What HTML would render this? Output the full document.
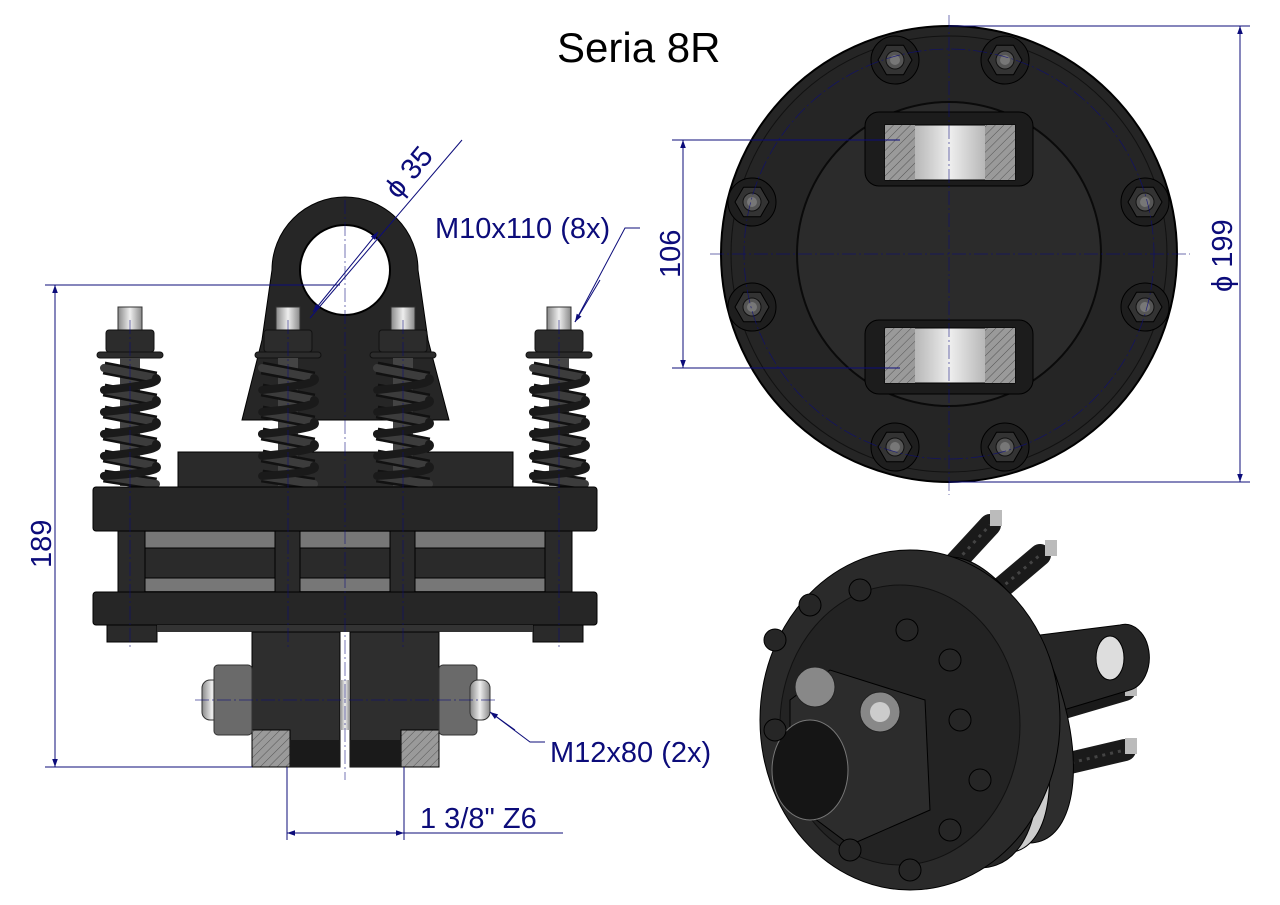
<!DOCTYPE html>
<html><head><meta charset="utf-8"><style>
html,body{margin:0;padding:0;background:#fff;}
svg{display:block;}
text{font-family:"Liberation Sans",sans-serif;}
</style></head><body>
<svg width="1280" height="905" viewBox="0 0 1280 905" xmlns="http://www.w3.org/2000/svg">
<defs>
<marker id="ar" viewBox="0 0 10 10" refX="10" refY="5" markerWidth="12" markerHeight="8" orient="auto-start-reverse"><path d="M0,1.5 L10,5 L0,8.5z" fill="#0c0c7a"/></marker>
<pattern id="hatch" width="6" height="6" patternUnits="userSpaceOnUse" patternTransform="rotate(45)"><rect width="6" height="6" fill="#9a9a9a"/><line x1="0" y1="0" x2="0" y2="6" stroke="#555" stroke-width="1"/></pattern>
<linearGradient id="metal" x1="0" x2="1"><stop offset="0" stop-color="#888"/><stop offset=".5" stop-color="#eee"/><stop offset="1" stop-color="#888"/></linearGradient>
<g id="spring">
<rect x="-12" y="-45" width="24" height="24" fill="url(#metal)" stroke="#333"/>
<rect x="-24" y="-22" width="48" height="22" rx="3" fill="#2c2c2c" stroke="#111"/>
<rect x="-33" y="0" width="66" height="6" rx="3" fill="#2c2c2c" stroke="#111"/>
<rect x="-10" y="6" width="20" height="128" fill="#444"/>
<g fill="none" stroke="#111" stroke-width="13">
<path d="M-26,16 L26,26 M-26,38 L26,48 M-26,60 L26,70 M-26,82 L26,92 M-26,104 L26,114 M-26,124 L26,132"/>
</g>
<g fill="none" stroke="#3c3c3c" stroke-width="8" stroke-linecap="round">
<path d="M-26,16 L26,26 M-26,38 L26,48 M-26,60 L26,70 M-26,82 L26,92 M-26,104 L26,114 M-26,124 L26,132"/>
</g>
<g fill="none" stroke="#1a1a1a" stroke-width="8" stroke-linecap="round">
<path d="M26,26 Q34,32 -26,38 M26,48 Q34,54 -26,60 M26,70 Q34,76 -26,82 M26,92 Q34,98 -26,104 M26,114 Q34,120 -26,124"/>
</g>
</g>
<g id="bolt">
<circle r="24" fill="#1e1e1e" stroke="#000"/>
<polygon points="17,0 8.5,14.7 -8.5,14.7 -17,0 -8.5,-14.7 8.5,-14.7" fill="#333" stroke="#000"/>
<circle r="9" fill="#555" stroke="#111"/>
<circle r="5" fill="#777"/>
</g>
</defs>

<text x="557" y="62" font-size="42" fill="#000">Seria 8R</text>

<!-- LEFT VIEW -->
<path d="M242,420 L262,340 L272,270 A73,73 0 0 1 418,270 L428,340 L449,420 Z" fill="#262626" stroke="#000"/>
<circle cx="345" cy="270" r="45" fill="#fff" stroke="#000" stroke-width="2"/>
<rect x="178" y="452" width="335" height="35" fill="#2a2a2a" stroke="#000"/>
<use href="#spring" x="130" y="352"/>
<use href="#spring" x="288" y="352"/>
<use href="#spring" x="403" y="352"/>
<use href="#spring" x="559" y="352"/>
<rect x="93" y="487" width="504" height="44" rx="3" fill="#262626" stroke="#000"/>
<rect x="145" y="531" width="400" height="61" fill="#2a2a2a"/>
<rect x="145" y="532" width="400" height="16" fill="#777"/>
<rect x="145" y="578" width="400" height="13" fill="#777"/>
<line x1="145" y1="548" x2="545" y2="548" stroke="#000"/>
<line x1="145" y1="578" x2="545" y2="578" stroke="#000"/>
<rect x="118" y="531" width="27" height="61" fill="#2a2a2a" stroke="#000"/>
<rect x="275" y="531" width="25" height="61" fill="#2a2a2a" stroke="#000"/>
<rect x="390" y="531" width="25" height="61" fill="#2a2a2a" stroke="#000"/>
<rect x="545" y="531" width="27" height="61" fill="#2a2a2a" stroke="#000"/>
<rect x="93" y="592" width="504" height="33" rx="3" fill="#262626" stroke="#000"/>
<rect x="107" y="625" width="50" height="17" fill="#2a2a2a" stroke="#000"/>
<rect x="265" y="625" width="43" height="17" fill="#2a2a2a" stroke="#000"/>
<rect x="380" y="625" width="43" height="17" fill="#2a2a2a" stroke="#000"/>
<rect x="533" y="625" width="50" height="17" fill="#2a2a2a" stroke="#000"/>
<rect x="157" y="625" width="376" height="7" fill="#333"/>
<rect x="252" y="632" width="88" height="135" fill="#2e2e2e" stroke="#000"/>
<rect x="350" y="632" width="89" height="135" fill="#2e2e2e" stroke="#000"/>
<rect x="340" y="680" width="10" height="50" fill="url(#metal)"/>
<rect x="252" y="730" width="38" height="37" fill="url(#hatch)" stroke="#000"/>
<rect x="401" y="730" width="38" height="37" fill="url(#hatch)" stroke="#000"/>
<rect x="290" y="740" width="50" height="27" fill="#1a1a1a"/>
<rect x="350" y="740" width="51" height="27" fill="#1a1a1a"/>
<rect x="202" y="680" width="20" height="40" rx="8" fill="url(#metal)" stroke="#333"/>
<rect x="214" y="665" width="38" height="70" rx="4" fill="#6a6a6a" stroke="#333"/>
<rect x="439" y="665" width="38" height="70" rx="4" fill="#6a6a6a" stroke="#333"/>
<rect x="470" y="680" width="20" height="40" rx="8" fill="url(#metal)" stroke="#333"/>

<g stroke="#0c0c7a" stroke-width="1" fill="none">
<line x1="45" y1="285" x2="340" y2="285"/>
<line x1="45" y1="767" x2="252" y2="767"/>
<line x1="55" y1="285" x2="55" y2="767" marker-start="url(#ar)" marker-end="url(#ar)"/>
<line x1="287" y1="767" x2="287" y2="840"/>
<line x1="404" y1="767" x2="404" y2="840"/>
<line x1="287" y1="833" x2="404" y2="833" marker-start="url(#ar)" marker-end="url(#ar)"/>
<line x1="404" y1="833" x2="563" y2="833"/>
<line x1="462" y1="140" x2="310" y2="318"/>
<line x1="378" y1="232" x2="313" y2="312" marker-start="url(#ar)" marker-end="url(#ar)"/>
<polyline points="640,228 625,228 575,322"/>
<line x1="600" y1="280" x2="575" y2="322" marker-end="url(#ar)"/>
<polyline points="545,742 530,742 490,712"/>
<line x1="515" y1="730" x2="490" y2="712" marker-end="url(#ar)"/>
</g>
<g stroke="#0c0c7a" stroke-width=".7" stroke-dasharray="14,3,2,3" opacity=".8">
<line x1="345" y1="200" x2="345" y2="780"/>
<line x1="130" y1="320" x2="130" y2="650"/><line x1="288" y1="320" x2="288" y2="650"/>
<line x1="403" y1="320" x2="403" y2="650"/><line x1="559" y1="320" x2="559" y2="650"/>
<line x1="195" y1="700" x2="495" y2="700"/>
</g>
<text x="0" y="0" font-size="29" fill="#0c0c7a" transform="translate(51,568) rotate(-90)">189</text>
<text x="420" y="828" font-size="29" fill="#0c0c7a">1 3/8" Z6</text>
<text x="550" y="762" font-size="29" fill="#0c0c7a">M12x80 (2x)</text>
<text x="435" y="238" font-size="29" fill="#0c0c7a">M10x110 (8x)</text>
<text x="0" y="0" font-size="29" fill="#0c0c7a" transform="translate(398,200) rotate(-50)">ϕ 35</text>

<!-- RIGHT TOP VIEW -->
<circle cx="949" cy="254" r="228" fill="#252525" stroke="#000" stroke-width="2"/>
<circle cx="949" cy="254" r="218" fill="none" stroke="#111"/>
<circle cx="949" cy="254" r="152" fill="#2b2b2b" stroke="#0a0a0a" stroke-width="2"/>
<rect x="865" y="112" width="168" height="74" rx="14" fill="#1c1c1c" stroke="#000"/>
<rect x="885" y="125" width="130" height="55" fill="url(#metal)" stroke="#000"/>
<rect x="885" y="125" width="30" height="55" fill="url(#hatch)"/>
<rect x="985" y="125" width="30" height="55" fill="url(#hatch)"/>
<rect x="865" y="320" width="168" height="74" rx="14" fill="#1c1c1c" stroke="#000"/>
<rect x="885" y="328" width="130" height="55" fill="url(#metal)" stroke="#000"/>
<rect x="885" y="328" width="30" height="55" fill="url(#hatch)"/>
<rect x="985" y="328" width="30" height="55" fill="url(#hatch)"/>
<use href="#bolt" x="895" y="60"/><use href="#bolt" x="1005" y="60"/>
<use href="#bolt" x="752" y="202"/><use href="#bolt" x="1145" y="202"/>
<use href="#bolt" x="752" y="307"/><use href="#bolt" x="1145" y="307"/>
<use href="#bolt" x="895" y="447"/><use href="#bolt" x="1005" y="447"/>
<g stroke="#0c0c7a" stroke-width=".7" stroke-dasharray="14,3,2,3" opacity=".8" fill="none">
<line x1="949" y1="15" x2="949" y2="495"/>
<line x1="710" y1="254" x2="1190" y2="254"/>
<circle cx="949" cy="254" r="205"/>
</g>
<g stroke="#0c0c7a" stroke-width="1" fill="none">
<line x1="949" y1="26" x2="1250" y2="26"/>
<line x1="949" y1="482" x2="1250" y2="482"/>
<line x1="1240" y1="26" x2="1240" y2="482" marker-start="url(#ar)" marker-end="url(#ar)"/>
<line x1="672" y1="140" x2="900" y2="140"/>
<line x1="672" y1="368" x2="900" y2="368"/>
<line x1="683" y1="140" x2="683" y2="368" marker-start="url(#ar)" marker-end="url(#ar)"/>
</g>
<text x="0" y="0" font-size="29" fill="#0c0c7a" transform="translate(1232,292) rotate(-90)">ϕ 199</text>
<text x="0" y="0" font-size="29" fill="#0c0c7a" transform="translate(680,278) rotate(-90)">106</text>

<!-- ISOMETRIC -->
<g>
<g stroke="#1a1a1a" stroke-width="22" fill="none" stroke-linecap="round">
<line x1="930" y1="590" x2="990" y2="525"/>
<line x1="975" y1="610" x2="1040" y2="555"/>
<line x1="1040" y1="715" x2="1125" y2="690"/>
<line x1="1040" y1="770" x2="1125" y2="750"/>
</g>
<g stroke="#444" stroke-width="3" fill="none" stroke-dasharray="3,5">
<line x1="930" y1="590" x2="990" y2="525"/>
<line x1="975" y1="610" x2="1040" y2="555"/>
<line x1="1040" y1="715" x2="1125" y2="690"/>
<line x1="1040" y1="770" x2="1125" y2="750"/>
</g>
<rect x="990" y="510" width="12" height="16" fill="#bbb"/><rect x="1045" y="540" width="12" height="16" fill="#bbb"/>
<rect x="1125" y="680" width="12" height="16" fill="#bbb"/><rect x="1125" y="738" width="12" height="16" fill="#bbb"/>
<path d="M1000,640 L1120,625 A22,30 0 0 1 1130,690 L1030,720Z" fill="#262626" stroke="#000"/>
<ellipse cx="1110" cy="658" rx="14" ry="22" fill="#ddd" stroke="#000"/>
<ellipse cx="990" cy="700" rx="70" ry="150" transform="rotate(-20 990 700)" fill="#2d2d2d" stroke="#000"/>
<ellipse cx="965" cy="705" rx="70" ry="155" transform="rotate(-20 965 705)" fill="#ccc" stroke="#000"/>
<ellipse cx="940" cy="710" rx="85" ry="165" transform="rotate(-20 940 710)" fill="#262626" stroke="#000"/>
<ellipse cx="910" cy="720" rx="150" ry="170" fill="#2a2a2a" stroke="#000"/>
<ellipse cx="900" cy="725" rx="120" ry="140" fill="#232323" stroke="#111"/>
<path d="M790,700 L830,670 L925,700 L930,810 L850,845 L790,800Z" fill="#2c2c2c" stroke="#000"/>
<ellipse cx="810" cy="770" rx="38" ry="50" fill="#151515" stroke="#777"/>
<circle cx="815" cy="687" r="20" fill="#888" stroke="#222"/>
<circle cx="880" cy="712" r="20" fill="#888" stroke="#222"/>
<circle cx="880" cy="712" r="10" fill="#ccc"/>
<g fill="#262626" stroke="#000">
<circle cx="775" cy="640" r="11"/><circle cx="810" cy="605" r="11"/><circle cx="860" cy="590" r="11"/>
<circle cx="907" cy="630" r="11"/><circle cx="950" cy="660" r="11"/><circle cx="960" cy="720" r="11"/>
<circle cx="980" cy="780" r="11"/><circle cx="950" cy="830" r="11"/><circle cx="910" cy="870" r="11"/>
<circle cx="850" cy="850" r="11"/><circle cx="775" cy="730" r="11"/>
</g>
</g>
</svg>
</body></html>
